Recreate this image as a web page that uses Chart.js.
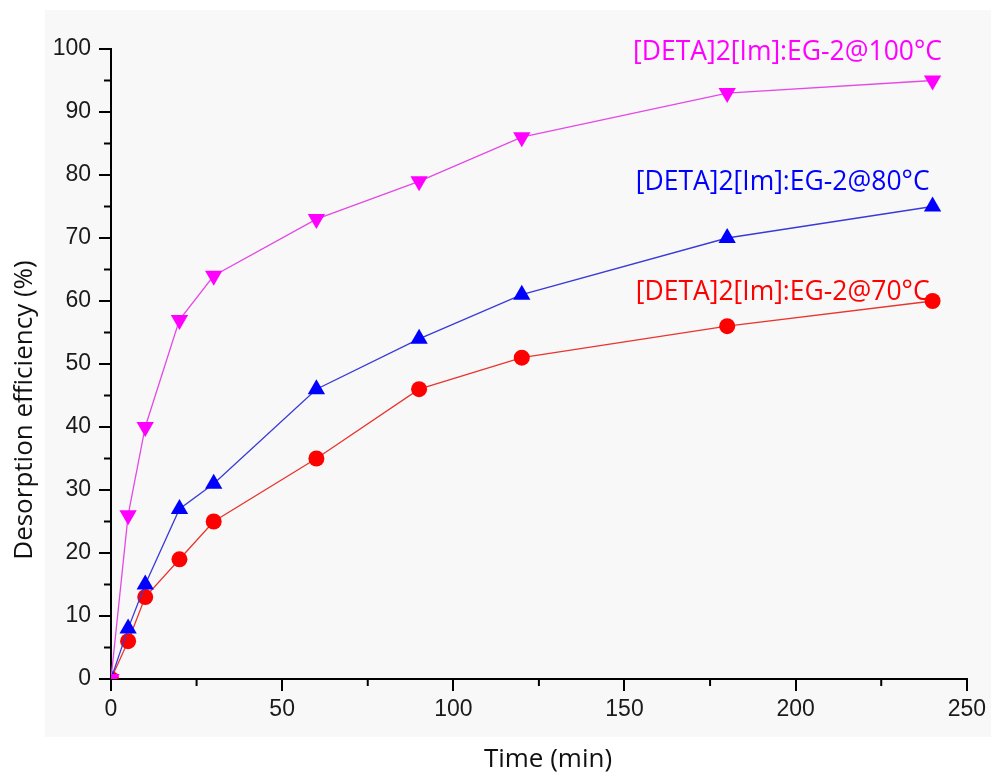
<!DOCTYPE html>
<html>
<head>
<meta charset="utf-8">
<script src="https://cdn.jsdelivr.net/npm/chart.js@4"></script>
<style>
html, body { margin: 0; padding: 0; background: #fff; }
</style>
</head>
<body>
<canvas id="grafica" width="991" height="776"></canvas>
<script>
// --- Datos ---
const tiempos = [0, 5, 10, 20, 30, 60, 90, 120, 180, 240];
const serie70 = [0, 6, 13, 19, 25, 35, 46, 51, 56, 60];
const serie80 = [0, 8, 15, 27, 31, 46, 54, 61, 70, 75];
const serie100 = [0, 26, 40, 57, 64, 73, 79, 86, 93, 95];
const nombres = ['[DETA]2[Im]:EG-2@70°C', '[DETA]2[Im]:EG-2@80°C', '[DETA]2[Im]:EG-2@100°C'];
const ticksX = [0, 50, 100, 150, 200, 250];
const ticksY = [0, 10, 20, 30, 40, 50, 60, 70, 80, 90, 100];
const tituloX = 'Time (min)';
const tituloY = 'Desorption efficiency (%)';

const pares = (ys) => tiempos.map((t, i) => ({ x: t, y: ys[i] }));

// --- Fondo gris claro de la figura ---
const fondo = {
    id: 'fondo',
    beforeDraw(chart) {
        const ctx = chart.ctx;
        ctx.save();
        ctx.fillStyle = '#ffffff';
        ctx.fillRect(0, 0, chart.width, chart.height);
        ctx.fillStyle = '#f8f8f8';
        ctx.fillRect(45, 10, chart.width - 45, 727);
        ctx.restore();
    }
};

// --- Marcas menores (a mitad de cada paso) ---
const marcasMenores = {
    id: 'marcasMenores',
    afterDraw(chart) {
        const ctx = chart.ctx;
        const sx = chart.scales.x, sy = chart.scales.y;
        ctx.save();
        ctx.strokeStyle = '#000';
        ctx.lineWidth = 2;
        ctx.beginPath();
        for (let i = 0; i < ticksX.length - 1; i++) {
            const px = sx.getPixelForValue((ticksX[i] + ticksX[i + 1]) / 2);
            ctx.moveTo(px, sy.bottom);
            ctx.lineTo(px, sy.bottom + 7);
        }
        for (let i = 0; i < ticksY.length - 1; i++) {
            const py = sy.getPixelForValue((ticksY[i] + ticksY[i + 1]) / 2);
            ctx.moveTo(sx.left, py);
            ctx.lineTo(sx.left - 7, py);
        }
        ctx.stroke();
        ctx.restore();
    }
};

// --- Títulos de ejes y etiquetas de series ---
const textos = {
    id: 'textos',
    afterDatasetsDraw(chart, args, opts) {
        const ctx = chart.ctx;
        const sx = chart.scales.x, sy = chart.scales.y;
        ctx.save();
        ctx.font = '26.5px "Open Sans"';
        ctx.textAlign = 'left';
        ctx.textBaseline = 'middle';
        chart.data.datasets.forEach((ds, i) => {
            const a = opts.anclas[i];
            ctx.fillStyle = ds.backgroundColor;
            ctx.fillText(ds.label, sx.getPixelForValue(a[0]), sy.getPixelForValue(a[1]));
        });
        ctx.font = '26px "Open Sans"';
        ctx.fillStyle = '#111';
        ctx.textAlign = 'center';
        ctx.fillText(tituloX, 548, 760);
        ctx.translate(25, 410);
        ctx.rotate(-Math.PI / 2);
        ctx.fillText(tituloY, 0, 0);
        ctx.restore();
    }
};

new Chart(document.getElementById('grafica'), {
    type: 'scatter',
    data: {
        datasets: [
            {
                label: nombres[0], data: pares(serie70), showLine: true, order: 3,
                borderColor: '#e8352f', borderWidth: 1.3, backgroundColor: '#ff0000',
                pointStyle: 'circle', pointRadius: 8, pointBorderWidth: 0
            },
            {
                label: nombres[1], data: pares(serie80), showLine: true, order: 2,
                borderColor: '#3a3ad8', borderWidth: 1.3, backgroundColor: '#0000ff',
                pointStyle: 'triangle', pointRadius: 10, pointBorderWidth: 0
            },
            {
                label: nombres[2], data: pares(serie100), showLine: true, order: 1,
                borderColor: '#e548e5', borderWidth: 1.3, backgroundColor: '#ff00ff',
                pointStyle: 'triangle', pointRotation: 180, pointRadius: 10, pointBorderWidth: 0
            }
        ]
    },
    options: {
        responsive: false,
        animation: false,
        devicePixelRatio: 1,
        layout: { padding: { left: 0, top: 49, right: 24, bottom: 0 } },
        plugins: {
            legend: { display: false },
            tooltip: { enabled: false },
            textos: { anclas: [[153.3, 61.3], [153.3, 78.8], [152.5, 99.5]] }
        },
        scales: {
            x: {
                type: 'linear', min: 0, max: 250,
                afterBuildTicks: (s) => { s.ticks = ticksX.map(v => ({ value: v })); },
                afterFit: (s) => { s.height = 97; },
                border: { display: true, color: '#000', width: 2 },
                grid: { drawOnChartArea: false, drawTicks: true, tickLength: 12, color: '#000', lineWidth: 2 },
                ticks: { color: '#1a1a1a', font: { family: 'Liberation Sans', size: 23 }, padding: 5, maxRotation: 0 }
            },
            y: {
                type: 'linear', min: 0, max: 100,
                afterBuildTicks: (s) => { s.ticks = ticksY.map(v => ({ value: v })); },
                afterFit: (s) => { s.width = 111; },
                border: { display: true, color: '#000', width: 2 },
                grid: { drawOnChartArea: false, drawTicks: true, tickLength: 12, color: '#000', lineWidth: 2 },
                ticks: { color: '#1a1a1a', font: { family: 'Liberation Sans', size: 23 }, padding: 8 }
            }
        }
    },
    plugins: [fondo, marcasMenores, textos]
});
</script>
</body>
</html>
